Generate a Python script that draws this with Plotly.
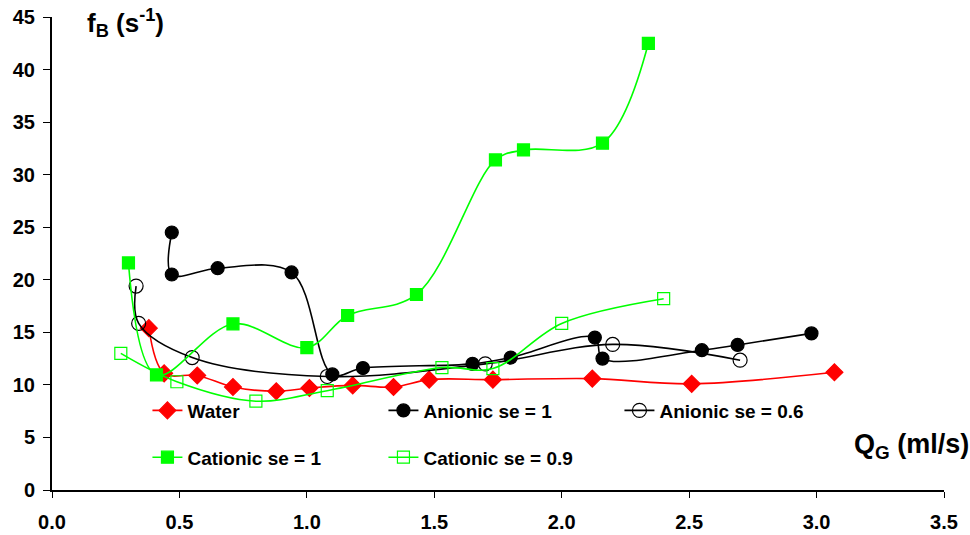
import plotly.graph_objects as go

# Bubble frequency f_B versus gas flow rate Q_G for each liquid
water_x = [0.38, 0.44, 0.57, 0.71, 0.88, 1.01, 1.18, 1.34, 1.48, 1.73, 2.12, 2.51, 3.07]
water_y = [15.4, 11.1, 10.9, 9.8, 9.4, 9.7, 9.95, 9.8, 10.5, 10.5, 10.6, 10.1, 11.2]

anionic1_x = [0.47, 0.47, 0.65, 0.94, 1.10, 1.22, 1.65, 1.80, 2.13, 2.16, 2.55, 2.69, 2.98]
anionic1_y = [24.5, 20.5, 21.1, 20.7, 11.0, 11.6, 12.0, 12.6, 14.5, 12.5, 13.3, 13.8, 14.9]

anionic06_x = [0.33, 0.34, 0.55, 1.08, 1.70, 2.20, 2.70]
anionic06_y = [19.4, 15.85, 12.6, 10.8, 12.0, 13.85, 12.35]

cationic1_x = [0.30, 0.41, 0.71, 1.00, 1.16, 1.43, 1.74, 1.85, 2.16, 2.34]
cationic1_y = [21.6, 10.95, 15.8, 13.55, 16.6, 18.6, 31.4, 32.35, 33.0, 42.5]

cationic09_x = [0.27, 0.49, 0.80, 1.08, 1.53, 1.73, 2.00, 2.40]
cationic09_y = [13.0, 10.3, 8.45, 9.45, 11.65, 11.55, 15.85, 18.2]

FONT = "Liberation Sans, Arial, sans-serif"
RED = "#ff0000"
GREEN = "#00ff00"
BLACK = "#000000"

fig = go.Figure()


def add_series(x, y, name, color, symbol, size, legend, fill=None):
    marker = dict(symbol=symbol, size=size, color=fill if fill else color,
                  line=dict(color=color, width=1.2))
    fig.add_trace(go.Scatter(
        x=x, y=y, name=name, mode="lines+markers",
        line=dict(color=color, width=1.6, shape="spline", smoothing=1.0),
        marker=marker, legend=legend,
    ))


add_series(water_x, water_y, "Water", RED, "diamond", 13, "legend")
add_series(anionic1_x, anionic1_y, "Anionic se = 1", BLACK, "circle", 13, "legend")
add_series(anionic06_x, anionic06_y, "Anionic se = 0.6", BLACK, "circle-open", 14, "legend")
add_series(cationic1_x, cationic1_y, "Cationic se = 1", GREEN, "square", 12, "legend2")
add_series(cationic09_x, cationic09_y, "Cationic se = 0.9", GREEN, "square-open", 12, "legend2")

legend_common = dict(
    orientation="h", xanchor="left", yanchor="middle",
    font=dict(family=FONT, size=19, color=BLACK, weight="bold"),
    bgcolor="rgba(0,0,0,0)", entrywidth=191, entrywidthmode="pixels",
    itemclick=False, itemdoubleclick=False,
)

fig.update_layout(
    width=970, height=535,
    margin=dict(l=52, r=26, t=17, b=45, autoexpand=False),
    paper_bgcolor="white", plot_bgcolor="white",
    showlegend=True,
    legend=dict(x=0.107, y=0.168, **legend_common),
    legend2=dict(x=0.107, y=0.069, **legend_common),
    xaxis=dict(
        range=[0, 3.5], dtick=0.5, tick0=0, tickformat=".1f",
        showgrid=False, zeroline=False,
        showline=True, linecolor=BLACK, linewidth=2,
        ticks="outside", ticklen=6, tickwidth=1.2, tickcolor=BLACK,
        ticklabelstandoff=7,
        tickfont=dict(family=FONT, size=20, color=BLACK, weight="bold"),
    ),
    yaxis=dict(
        range=[0, 45], dtick=5, tick0=0,
        showgrid=False, zeroline=False,
        showline=True, linecolor=BLACK, linewidth=2,
        ticks="outside", ticklen=7, tickwidth=1.2, tickcolor=BLACK,
        ticklabelstandoff=4,
        tickfont=dict(family=FONT, size=20, color=BLACK, weight="bold"),
    ),
    annotations=[
        dict(text="f<sub>B</sub> (s<sup>-1</sup>)", xref="paper", yref="paper",
             x=0.037, y=0.987, xanchor="left", yanchor="middle", showarrow=False,
             font=dict(family=FONT, size=26, color=BLACK, weight="bold")),
        dict(text="Q<sub>G</sub> (ml/s)", xref="paper", yref="paper",
             x=1.03, y=0.092, xanchor="right", yanchor="middle", showarrow=False,
             font=dict(family=FONT, size=27, color=BLACK, weight="bold")),
    ],
)

fig.write_html("out.html")
